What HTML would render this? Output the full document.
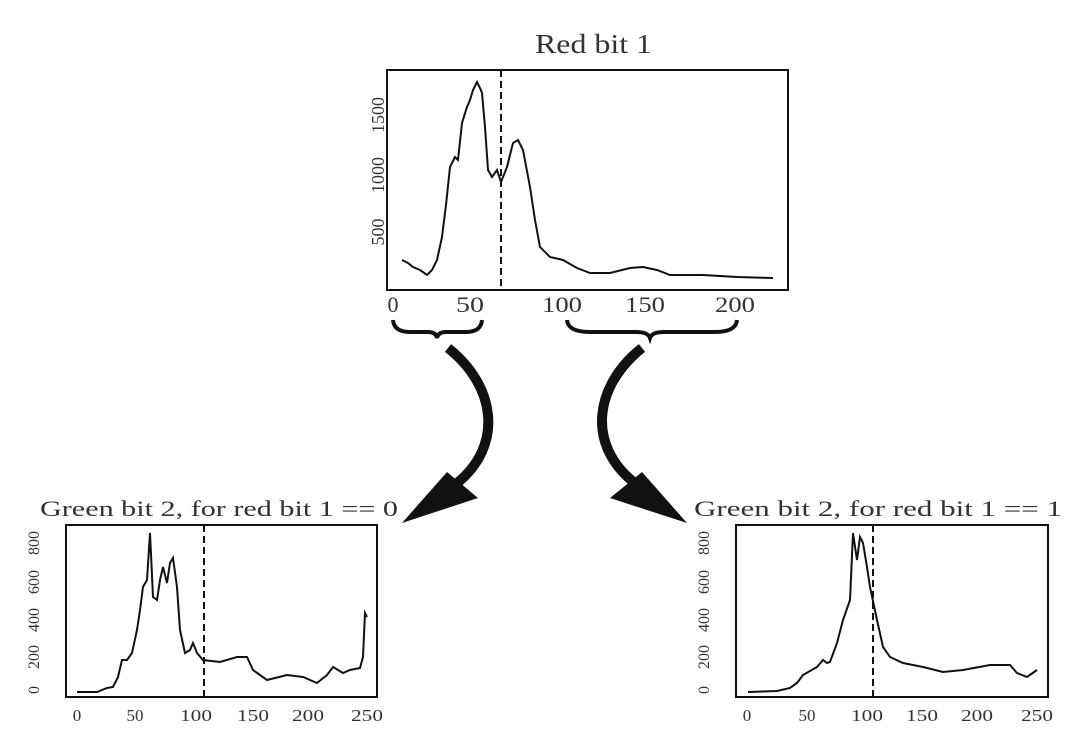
<!DOCTYPE html>
<html><head><meta charset="utf-8"><style>
html,body{margin:0;padding:0;background:#fff;}
svg{display:block;}
text{font-family:"Liberation Serif",serif;fill:#333;}
</style></head><body>
<svg width="1084" height="754" viewBox="0 0 1084 754" xmlns="http://www.w3.org/2000/svg">
<!-- Top chart -->
<text x="535" y="53" font-size="27" textLength="117" lengthAdjust="spacingAndGlyphs" fill="#222">Red bit 1</text>
<rect x="387" y="70" width="401" height="220" fill="none" stroke="#111" stroke-width="2"/>
<line x1="501" y1="70" x2="501" y2="290" stroke="#111" stroke-width="2" stroke-dasharray="7,4"/>
<polyline fill="none" stroke="#111" stroke-width="2" points="402,260 408,263 413,267 420,270 427,275 432,270 437,260 442,237 446,205 450,167 455,157 458,160 462,123 467,107 470,100 473,90 477,82 480,88 482,93 485,127 488,170 492,177 497,170 501,182 507,167 513,143 518,140 523,150 530,187 535,220 540,247 550,257 563,260 577,268 590,273 610,273 630,268 643,267 657,270 670,275 703,275 737,277 773,278"/>
<g font-size="22" text-anchor="middle">
<text x="393" y="312">0</text><text x="470" y="312" textLength="28" lengthAdjust="spacingAndGlyphs">50</text><text x="562" y="312" textLength="40" lengthAdjust="spacingAndGlyphs">100</text><text x="645" y="312" textLength="40" lengthAdjust="spacingAndGlyphs">150</text><text x="735" y="312" textLength="40" lengthAdjust="spacingAndGlyphs">200</text>
</g>
<g font-size="18" text-anchor="middle">
<text transform="translate(384,232) rotate(-90)">500</text>
<text transform="translate(384,175) rotate(-90)">1000</text>
<text transform="translate(384,115) rotate(-90)">1500</text>
</g>
<!-- Braces -->
<path d="M393,320 Q394,332 410,332 L428,332 Q436,332 437,338 Q438,332 446,332 L466,332 Q481,332 482,320" fill="none" stroke="#111" stroke-width="4"/>
<path d="M567,320 Q568,332 590,332 L636,332 Q648,332 650,338 Q652,332 664,332 L715,332 Q736,332 737,320" fill="none" stroke="#111" stroke-width="4"/>
<!-- Arrows -->
<path d="M448,348 C495,385 505,445 456,484" fill="none" stroke="#111" stroke-width="10"/>
<polygon points="447,472 478,498 402,523" fill="#111"/>
<path d="M642,348 C595,385 585,445 636,484" fill="none" stroke="#111" stroke-width="10"/>
<polygon points="642,472 610,498 687,523" fill="#111"/>
<!-- Bottom left -->
<text x="40" y="516" font-size="22" textLength="358" lengthAdjust="spacingAndGlyphs" fill="#222">Green bit 2, for red bit 1 == 0</text>
<rect x="66" y="525" width="311" height="172" fill="none" stroke="#111" stroke-width="2"/>
<line x1="204" y1="525" x2="204" y2="697" stroke="#111" stroke-width="2" stroke-dasharray="7,4"/>
<polyline fill="none" stroke="#111" stroke-width="2" points="77,692 97,692 107,688 113,687 118,677 122,660 127,660 132,653 137,630 140,610 143,587 147,580 150,533 153,597 157,600 160,580 163,567 167,583 170,563 173,558 177,587 180,630 185,653 190,650 193,643 197,653 203,660 220,662 237,657 247,657 253,670 267,680 287,675 303,677 317,683 327,675 333,667 343,673 350,670 360,668 363,657 365,613 367,617"/>
<g font-size="17" text-anchor="middle">
<text x="77" y="721">0</text><text x="135" y="721">50</text><text x="196" y="721" textLength="32" lengthAdjust="spacingAndGlyphs">100</text><text x="253" y="721" textLength="32" lengthAdjust="spacingAndGlyphs">150</text><text x="308" y="721" textLength="32" lengthAdjust="spacingAndGlyphs">200</text><text x="367" y="721" textLength="32" lengthAdjust="spacingAndGlyphs">250</text>
</g>
<g font-size="16" text-anchor="middle">
<text transform="translate(39,690) rotate(-90)">0</text>
<text transform="translate(39,657) rotate(-90)">200</text>
<text transform="translate(39,620) rotate(-90)">400</text>
<text transform="translate(39,582) rotate(-90)">600</text>
<text transform="translate(39,543) rotate(-90)">800</text>
</g>
<!-- Bottom right -->
<text x="694" y="516" font-size="22" textLength="368" lengthAdjust="spacingAndGlyphs" fill="#222">Green bit 2, for red bit 1 == 1</text>
<rect x="736" y="525" width="312" height="172" fill="none" stroke="#111" stroke-width="2"/>
<line x1="873" y1="525" x2="873" y2="697" stroke="#111" stroke-width="2" stroke-dasharray="7,4"/>
<polyline fill="none" stroke="#111" stroke-width="2" points="748,692 777,691 790,688 797,683 803,675 817,667 823,660 827,663 830,662 837,643 843,620 850,600 853,533 857,560 860,537 863,543 867,567 870,587 877,620 883,647 890,657 903,663 923,667 943,672 963,670 990,665 1010,665 1017,673 1027,677 1037,670"/>
<g font-size="17" text-anchor="middle">
<text x="747" y="721">0</text><text x="807" y="721">50</text><text x="867" y="721" textLength="32" lengthAdjust="spacingAndGlyphs">100</text><text x="922" y="721" textLength="32" lengthAdjust="spacingAndGlyphs">150</text><text x="977" y="721" textLength="32" lengthAdjust="spacingAndGlyphs">200</text><text x="1037" y="721" textLength="32" lengthAdjust="spacingAndGlyphs">250</text>
</g>
<g font-size="16" text-anchor="middle">
<text transform="translate(709,690) rotate(-90)">0</text>
<text transform="translate(709,657) rotate(-90)">200</text>
<text transform="translate(709,620) rotate(-90)">400</text>
<text transform="translate(709,582) rotate(-90)">600</text>
<text transform="translate(709,543) rotate(-90)">800</text>
</g>
</svg>
</body></html>
